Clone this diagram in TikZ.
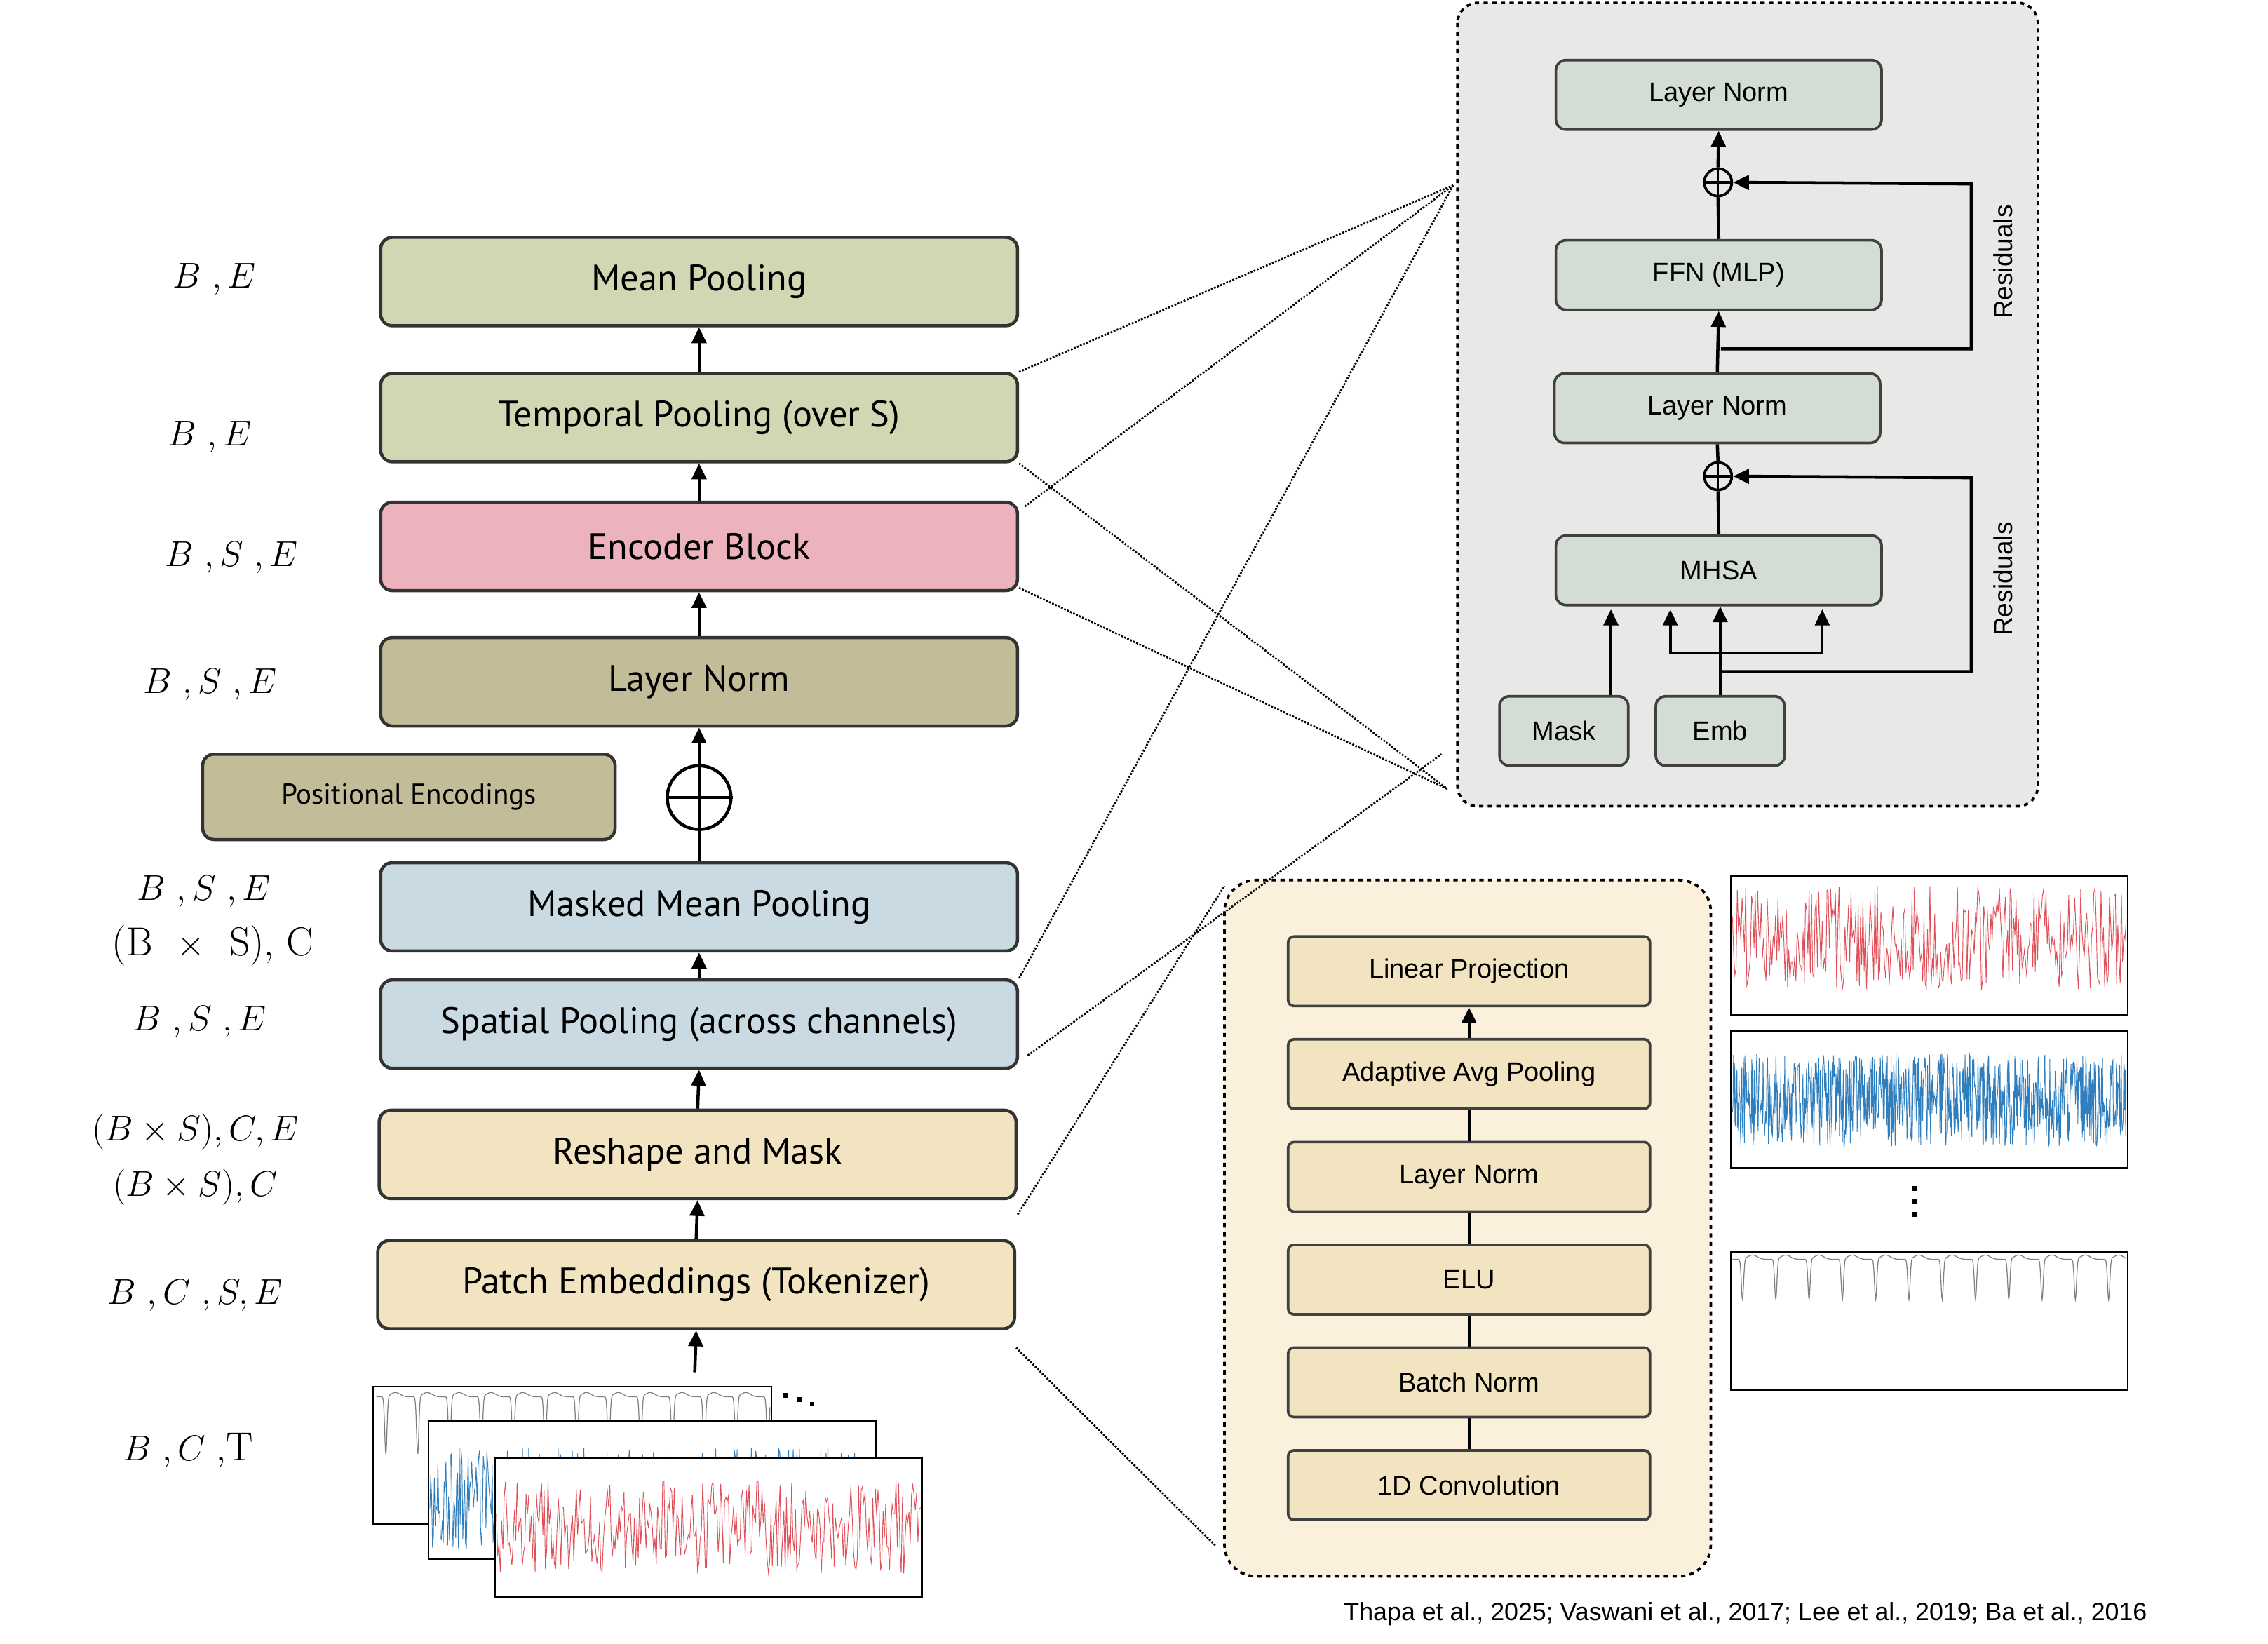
\documentclass[tikz,border=0pt]{standalone}
\usepackage{fontspec}
\usepackage{amsmath}
\setmainfont{PT Sans}
\newfontfamily\arialf{Liberation Sans}
\newfontfamily\lmr{Latin Modern Roman}
\usetikzlibrary{arrows.meta}
\definecolor{cgreen}{HTML}{D0D8B3}
\definecolor{cpink}{HTML}{EDB3BD}
\definecolor{ctan}{HTML}{C3BC98}
\definecolor{cblue}{HTML}{C9DAE3}
\definecolor{ccream}{HTML}{F3E4C1}
\definecolor{cpanel}{HTML}{E8E8E6}
\definecolor{cpanelb}{HTML}{FAF0DC}
\definecolor{cgbox}{HTML}{D3DDD5}
\definecolor{cred}{HTML}{E0505A}
\definecolor{cbl}{HTML}{2F7FBF}
\newcommand\sigrand[6]{% x0 x1 ymid amp samples color
  \draw[#6,line width=0.45pt] plot[domain=#1:#2,samples=#5] (\x,{#3+#4*rand});}
\newcommand\sigecg[6]{% x0 x1 ybase period depth color
  \draw[#6,line width=0.6pt] plot[domain=#1:#2,samples=900] (\x,{#3+#5*exp(-((mod(\x-#1,#4)-0.3*#4)^2)/1.2)-3*exp(-((mod(\x-#1,#4)-0.6*#4)^2)/20)});}
\begin{document}
\begin{tikzpicture}[x=1bp,y=-1bp,
  bx/.style={draw=black!80,line width=2.2pt,rounded corners=8pt,minimum width=440bp,minimum height=61bp,font=\fontsize{25.5}{28}\selectfont},
  gb/.style={draw=black!75,line width=1.8pt,rounded corners=7pt,fill=cgbox,minimum width=225bp,minimum height=48bp,font=\arialf\fontsize{18.5}{20}\selectfont},
  cb/.style={draw=black!75,line width=1.8pt,rounded corners=4pt,fill=ccream,minimum width=250bp,minimum height=48bp,font=\arialf\fontsize{18.5}{20}\selectfont},
  ar/.style={-{Triangle[length=11pt,width=10pt]},line width=2.2pt},
  ln/.style={line width=2.2pt},
  zl/.style={densely dotted,line width=1.3pt},
  ml/.style={font=\fontsize{28}{31}\selectfont},
  fr/.style={draw=black,line width=1.2pt,fill=white},
  dt/.style={fill=black,minimum size=3.2bp,inner sep=0pt,draw=none}]
\useasboundingbox (0,0) rectangle (1567,1135.5);
\pgfmathsetseed{7}
% ---------- left column ----------
\node[bx,fill=cgreen] (mean) at (483,194.5) {Mean Pooling};
\node[bx,fill=cgreen] (temp) at (483,288.5) {Temporal Pooling (over S)};
\node[bx,fill=cpink] (enc) at (483,377.5) {Encoder Block};
\node[bx,fill=ctan] (ln) at (483,471) {Layer Norm};
\node[bx,fill=ctan,minimum width=285bp,minimum height=59bp,font=\fontsize{20}{22}\selectfont] (pe) at (282.5,550.5) {Positional Encodings};
\node[circle,draw,line width=2.2pt,minimum size=44bp,inner sep=0pt] (plus) at (483,551) {};
\draw[line width=2.2pt] (plus.north)--(plus.south) (plus.west)--(plus.east);
\node[bx,fill=cblue] (mmp) at (483,626.5) {Masked Mean Pooling};
\node[bx,fill=cblue] (sp) at (483,707.5) {Spatial Pooling (across channels)};
\node[bx,fill=ccream] (rm) at (482,797.5) {Reshape and Mask};
\node[bx,fill=ccream] (pemb) at (481,887.5) {Patch Embeddings (Tokenizer)};
\draw[ar] (temp.north)--(mean.south);
\draw[ar] (enc.north)--(temp.south);
\draw[ar] (ln.north)--(enc.south);
\draw[ar] (plus.north)--(ln.south);
\draw[ln] (mmp.north)--(plus.south);
\draw[ar] (sp.north)--(mmp.south);
\draw[ar] (rm.north)--(sp.south);
\draw[ar] (pemb.north)--(rm.south);
\coordinate (sig) at (480,948);
\draw[ar] (sig)--(pemb.south);
% labels
\node[ml] (l1) at (148,193) {$B\ ,E$};
\node[ml] (l2) at (145,302) {$B\ ,E$};
\node[ml] (l3) at (160,385) {$B\ ,S\ ,E$};
\node[ml] (l4) at (145,473) {$B\ ,S\ ,E$};
\node[ml] (l5) at (141,616) {$B\ ,S\ ,E$};
\node[ml] (l6) at (147,653) {\lmr (B \ $\times$\ \ S), C};
\node[ml] (l7) at (138,706) {$B\ ,S\ ,E$};
\node[ml] (l8) at (135,782) {$(B\times S),C,E$};
\node[ml] (l9) at (135,820) {$(B\times S),C$};
\node[ml] (l10) at (135,895) {$B\ ,C\ ,S,E$};
\node[ml] (l11) at (130,1002) {$B\ ,C\ ,$\lmr T};
% stacked signals
\draw[fr] (258,958) rectangle (533,1053);
\begin{scope}\clip (258,958) rectangle (533,1053);
\sigecg{260}{532}{965}{22}{40}{gray}\end{scope}
\draw[fr] (296,982) rectangle (605,1077);
\begin{scope}\clip (296,982) rectangle (605,1077);
\sigrand{297}{604}{1035}{35}{500}{cbl}\end{scope}
\draw[fr] (342,1007) rectangle (637,1103);
\begin{scope}\clip (342,1007) rectangle (637,1103);
\sigrand{343}{636}{1055}{32}{330}{cred}\end{scope}
\node[dt] (d1a) at (543,964) {};
\node[dt] (d1b) at (552,967) {};
\node[dt] (d1c) at (561,970) {};
% ---------- right top panel ----------
\draw[dashed,line width=1.8pt,rounded corners=14pt,fill=cpanel] (1007,2) rectangle (1408,557);
\node[gb] (rln2) at (1187.5,65.5) {Layer Norm};
\node[gb] (ffn) at (1187.5,190) {FFN (MLP)};
\node[gb] (rln1) at (1186.5,282) {Layer Norm};
\node[gb] (mhsa) at (1187.5,394) {MHSA};
\node[gb,minimum width=89bp] (mask) at (1080.5,505) {Mask};
\node[gb,minimum width=89bp] (emb) at (1188.5,505) {Emb};
\node[circle,draw,line width=1.8pt,minimum size=19bp,inner sep=0pt] (p2) at (1187,126) {};
\draw[line width=1.6pt] (p2.north)--(p2.south) (p2.west)--(p2.east);
\node[circle,draw,line width=1.8pt,minimum size=19bp,inner sep=0pt] (p1) at (1187,329) {};
\draw[line width=1.6pt] (p1.north)--(p1.south) (p1.west)--(p1.east);
\draw[ar] (p2.north)--(rln2.south);
\draw[ln] (ffn.north)--(p2.south);
\draw[ar] (rln1.north)--(ffn.south);
\draw[ln] (p1.north)--(rln1.south);
\draw[ln] (mhsa.north)--(p1.south);
\coordinate (r2a) at (1189,241);
\draw[ar] (r2a)--(1362,241)--(1362,127)--(p2.east);
\coordinate (r1a) at (1189,464);
\draw[ar] (r1a)--(1362,464)--(1362,330)--(p1.east);
\draw[ar] (mask.north -| 1113,0)--(1113,421);
\draw[ar] (emb.north)--(emb.north |- mhsa.south);
\draw[ar,line width=1.8pt] (1189,451)--(1154,451)--(1154,421);
\draw[ar,line width=1.8pt] (1189,451)--(1259,451)--(1259,421);
\node[rotate=90,font=\arialf\fontsize{18}{20}\selectfont] (res2) at (1384,181) {Residuals};
\node[rotate=90,font=\arialf\fontsize{18}{20}\selectfont] (res1) at (1384,400) {Residuals};
% ---------- right bottom panel ----------
\draw[dashed,line width=1.8pt,rounded corners=22pt,fill=cpanelb] (846,608) rectangle (1182,1089);
\node[cb] (lp) at (1015,671) {Linear Projection};
\node[cb] (aap) at (1015,742) {Adaptive Avg Pooling};
\node[cb] (cln) at (1015,813) {Layer Norm};
\node[cb] (elu) at (1015,884) {ELU};
\node[cb] (bn) at (1015,955) {Batch Norm};
\node[cb] (conv) at (1015,1026) {1D Convolution};
\draw[ar] (aap.north)--(lp.south);
\draw[ln] (cln)--(aap) (elu)--(cln) (bn)--(elu) (conv)--(bn);
% right signals
\draw[fr] (1196,605) rectangle (1470,701);
\begin{scope}\clip (1196,605) rectangle (1470,701);
\sigrand{1197}{1469}{648}{36}{330}{cred}\end{scope}
\draw[fr] (1196,712) rectangle (1470,807);
\begin{scope}\clip (1196,712) rectangle (1470,807);
\sigrand{1197}{1469}{760}{32}{800}{cbl}\end{scope}
\draw[fr] (1196,865) rectangle (1470,960);
\begin{scope}\clip (1196,865) rectangle (1470,960);
\sigecg{1197}{1469}{870}{23}{28}{gray}\end{scope}
\node[dt] (d2a) at (1323,821) {};
\node[dt] (d2b) at (1323,830) {};
\node[dt] (d2c) at (1323,839) {};
% ---------- zoom lines ----------
\coordinate (zt) at (1004,128);
\coordinate (zb) at (1000,545);
\coordinate (zc) at (996,521);
\coordinate (zd) at (846,612);
\coordinate (ze) at (840,1068);
\draw[zl] (temp.north east)--(zt);
\draw[zl] ([xshift=4pt,yshift=-4pt]enc.north east)--(zt);
\draw[zl] (temp.south east)--(zb);
\draw[zl] ([yshift=3pt]enc.south east)--(zb);
\draw[zl] (sp.north east)--(zt);
\draw[zl] ([xshift=6pt,yshift=10pt]sp.south east)--(zc);
\draw[zl] ([yshift=-10pt]rm.south east)--(zd);
\draw[zl] ([yshift=-12pt]pemb.south east)--(ze);
% citation
\node[font=\arialf\fontsize{17.4}{19}\selectfont] (cite) at (1206,1115) {Thapa et al., 2025; Vaswani et al., 2017; Lee et al., 2019; Ba et al., 2016};
\end{tikzpicture}
\end{document}
